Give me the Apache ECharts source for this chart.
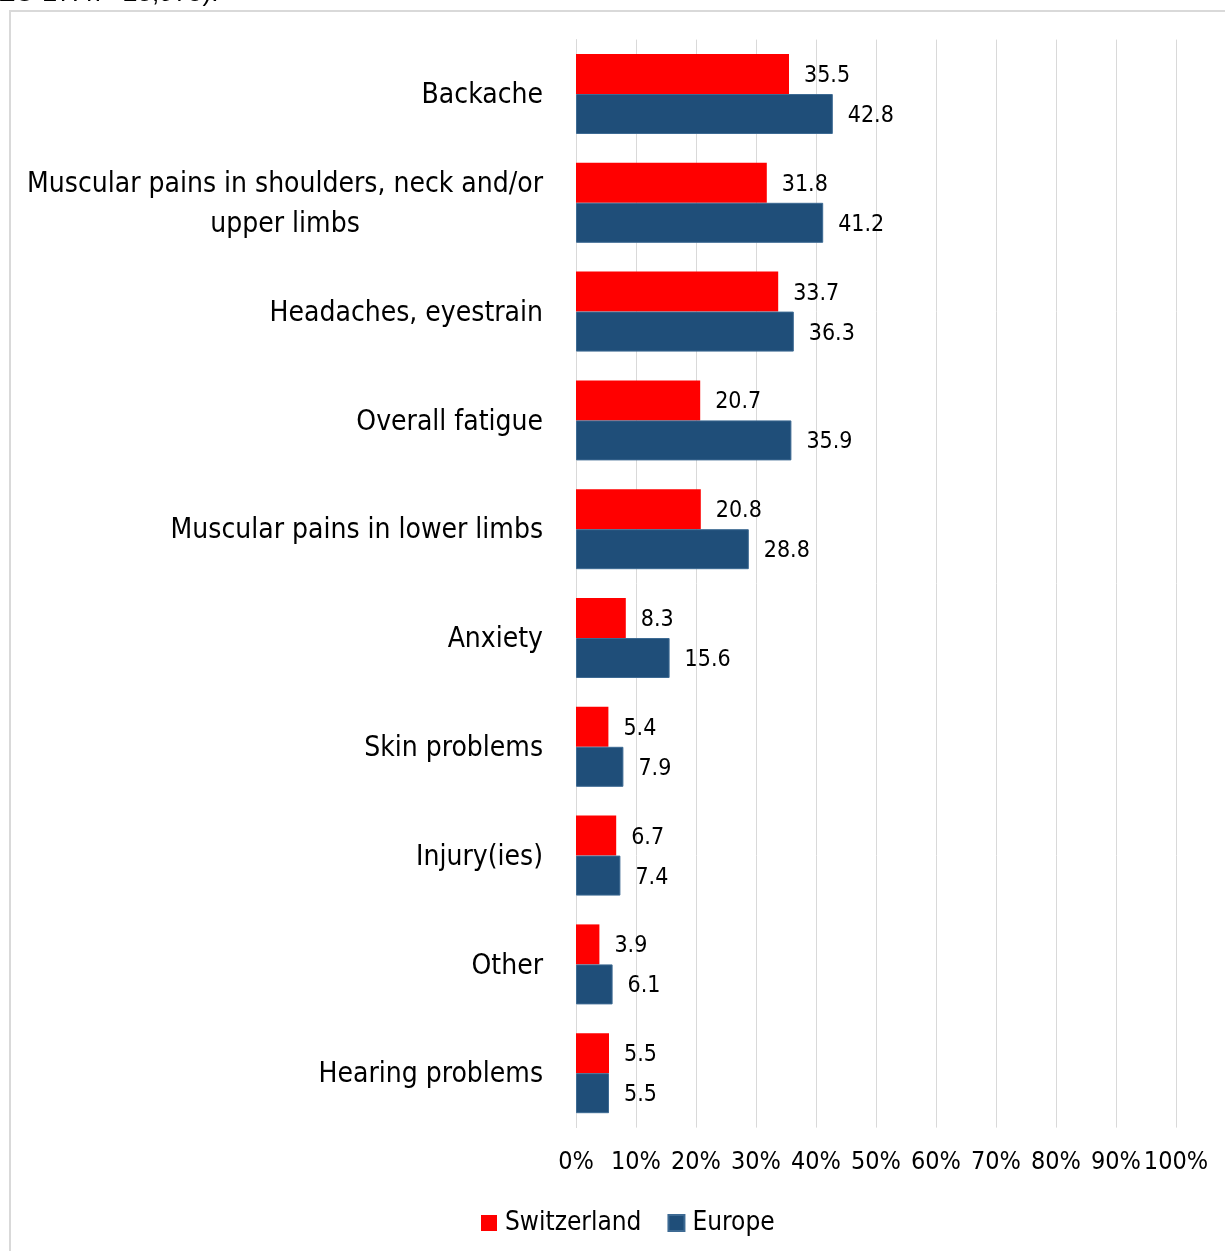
<!DOCTYPE html>
<html>
<head>
<meta charset="utf-8">
<script src="https://cdn.jsdelivr.net/npm/echarts@6/dist/echarts.min.js"></script>
<style>
  html, body { margin: 0; padding: 0; background: #fff; }
  #chart { width: 1225px; height: 1251px; }
</style>
</head>
<body>
<div id="chart"></div>
<script>
// Work-related health problems: share of workers reporting each problem (%)
const categories = [
  'Backache',
  'Muscular pains in shoulders, neck and/or\nupper limbs',
  'Headaches, eyestrain',
  'Overall fatigue',
  'Muscular pains in lower limbs',
  'Anxiety',
  'Skin problems',
  'Injury(ies)',
  'Other',
  'Hearing problems'
];
const switzerland = [35.5, 31.8, 33.7, 20.7, 20.8, 8.3, 5.4, 6.7, 3.9, 5.5];
const europe      = [42.8, 41.2, 36.3, 35.9, 28.8, 15.6, 7.9, 7.4, 6.1, 5.5];
const xTicks = { min: 0, max: 100, interval: 10 };

const FONT = "'Liberation Sans Narrow', 'Arial Narrow', 'DejaVu Sans Condensed', sans-serif";

const chart = echarts.init(document.getElementById('chart'));

const barLabel = {
  show: true,
  position: 'right',
  distance: 15,
  offset: [0, 2],
  color: '#000',
  fontFamily: FONT,
  fontSize: 23,
  formatter: p => p.value.toFixed(1)
};

chart.setOption({
  animation: false,
  textStyle: { fontFamily: FONT },
  graphic: [
    {
      type: 'rect',
      shape: { x: 10, y: 11, width: 1240, height: 1260 },
      style: { fill: 'none', stroke: '#d9d9d9', lineWidth: 2 },
      silent: true
    },
    {
      type: 'text',
      left: -2,
      top: -19,
      style: {
        text: 'EU-27: n= 28,975).',
        fontFamily: "'Liberation Sans', Arial, sans-serif",
        fontSize: 26,
        fill: '#000'
      },
      silent: true
    }
  ],
  legend: {
    data: ['Switzerland', 'Europe'],
    left: 476,
    top: 1205,
    itemWidth: 16,
    itemHeight: 16,
    itemGap: 26,
    icon: 'rect',
    textStyle: { fontFamily: FONT, fontSize: 26, color: '#000', padding: [0, 0, 0, 3] }
  },
  grid: { left: 576, right: 49, top: 39.6, bottom: 123.4, containLabel: false },
  xAxis: {
    type: 'value',
    min: xTicks.min,
    max: xTicks.max,
    interval: xTicks.interval,
    axisLine: { show: false },
    axisTick: { show: false },
    splitLine: { show: true, lineStyle: { color: '#d9d9d9', width: 1 } },
    axisLabel: {
      formatter: '{value}%',
      color: '#000',
      fontFamily: FONT,
      fontSize: 25,
      margin: 22
    }
  },
  yAxis: {
    type: 'category',
    data: categories,
    inverse: true,
    axisLine: { show: true, lineStyle: { color: '#d9d9d9', width: 1 } },
    axisTick: { show: false },
    axisLabel: {
      color: '#000',
      fontFamily: FONT,
      fontSize: 28,
      margin: 33,
      lineHeight: 40,
      padding: [4, 0, 0, 0],
      formatter: v => v.split('\n').map(s => '{c|' + s + '}').join('\n'),
      rich: {
        c: { align: 'center', fontFamily: FONT, fontSize: 28, color: '#000', lineHeight: 40 }
      }
    }
  },
  series: [
    {
      name: 'Switzerland',
      type: 'bar',
      data: switzerland,
      barWidth: 40,
      barGap: '0%',
      itemStyle: { color: '#ff0000' },
      label: barLabel
    },
    {
      name: 'Europe',
      type: 'bar',
      data: europe,
      barWidth: 40,
      itemStyle: { color: '#1f4e79', borderColor: '#3d6a93', borderWidth: 1 },
      label: barLabel
    }
  ]
});
</script>
</body>
</html>
